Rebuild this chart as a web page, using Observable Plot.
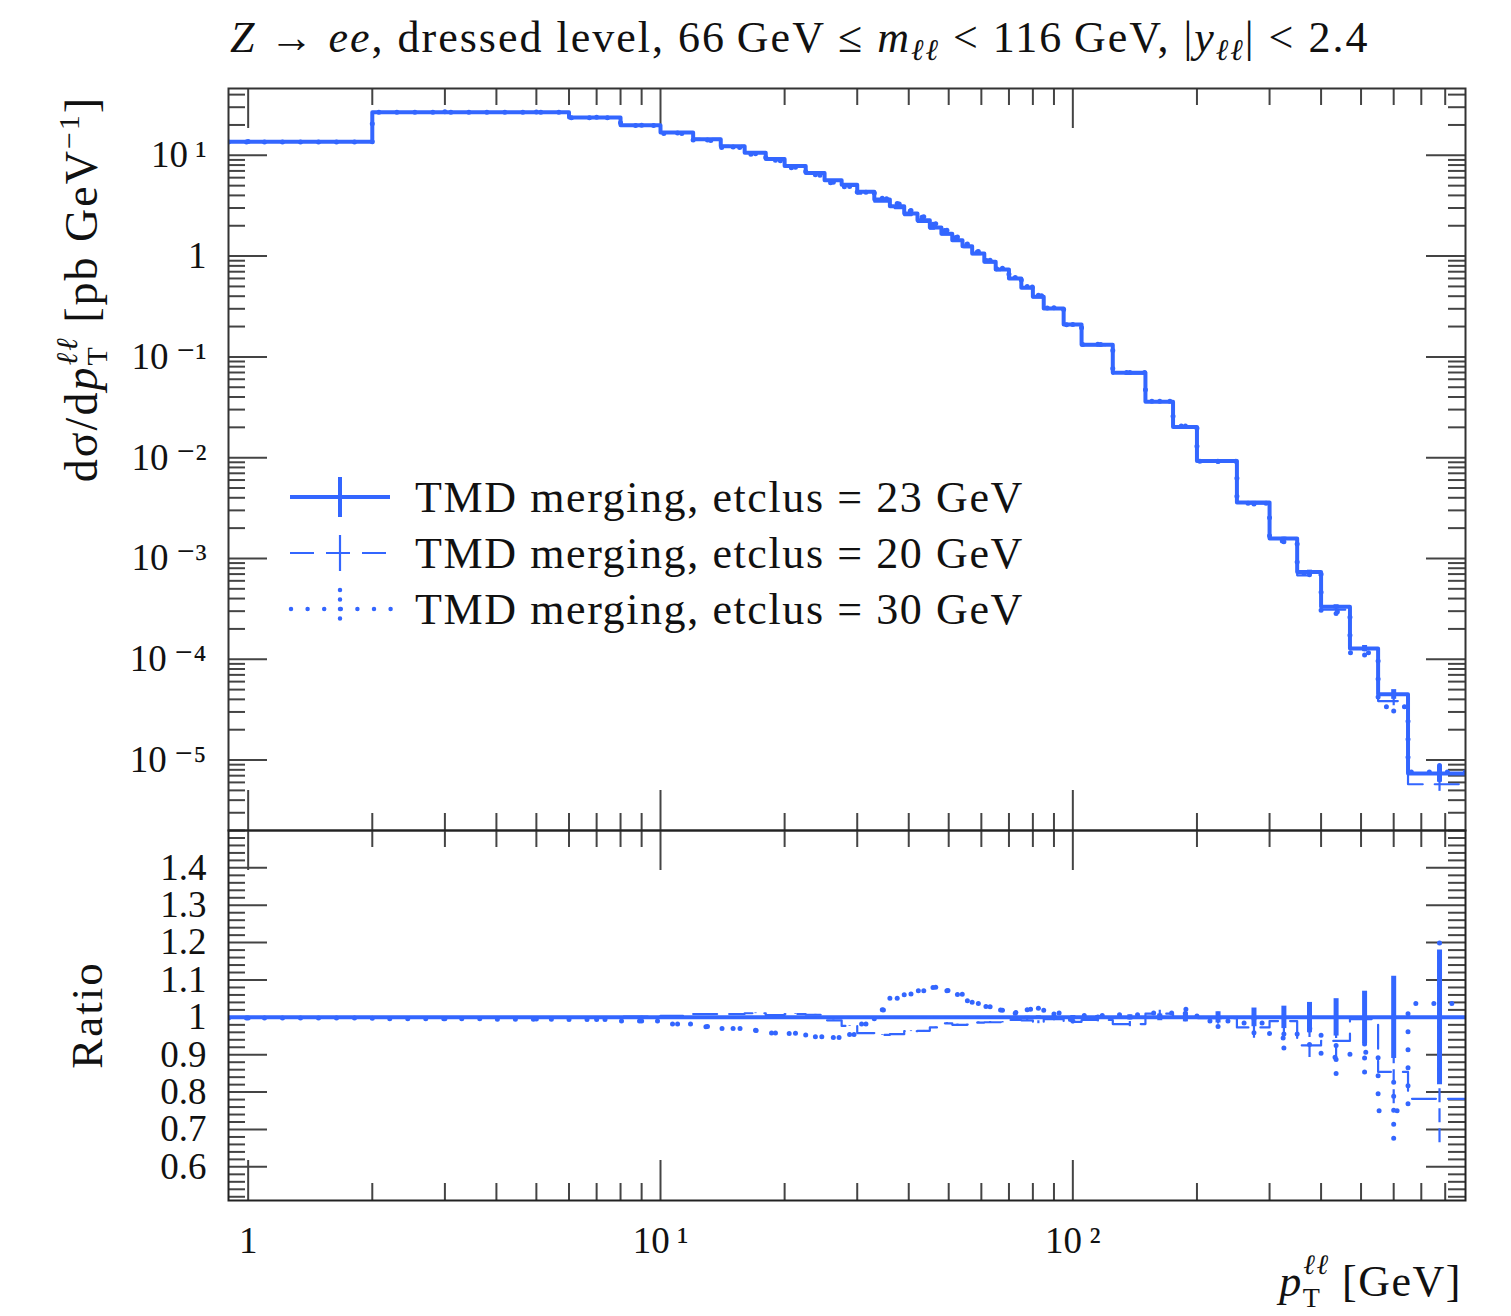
<!DOCTYPE html>
<html><head><meta charset="utf-8">
<script src="https://cdn.jsdelivr.net/npm/d3@7"></script>
<script src="https://cdn.jsdelivr.net/npm/@observablehq/plot@0.6"></script>
<style>
body{margin:0;background:#fff;}
#wrap{position:relative;width:1511px;height:1316px;overflow:hidden;font-family:"Liberation Serif","DejaVu Serif",serif;}
#wrap > *{position:absolute;left:0;}
</style></head><body><div id="wrap"></div>
<script>
// ---------- data ----------
const binEdges = [0,2,4,6,8,10,12,14,16,18,20,22.5,25,27.5,30,33,36,39,42,45,48,51,54,57,61,65,70,75,80,85,95,105,125,150,175,200,250,300,350,400,470,550,650,900];
// d sigma / d pT [pb/GeV], etclus = 23 GeV (reference)
const xsec23 = [13.6,26.8,26.8,23.7,19.9,16.8,14.4,12.3,10.6,9.2,7.85,6.69,5.66,5.1,4.34,3.64,3.13,2.64,2.27,1.92,1.67,1.44,1.25,1.06,0.877,0.736,0.60,0.484,0.394,0.302,0.21,0.132,0.0694,0.0358,0.0202,0.00929,0.00359,0.00158,0.000736,0.000331,0.000128,0.000045,0.00000736];
// ratio to the 23 GeV curve
const ratio20 = [1.0,1.0,1.0,1.001,1.002,1.004,1.009,1.009,1.011,1.006,1.009,1.007,0.992,0.977,0.958,0.953,0.955,0.963,0.964,0.973,0.984,0.98,0.98,0.986,0.987,0.987,0.993,0.992,0.987,0.995,0.988,0.993,0.982,1.01,1.0,0.998,0.973,0.99,0.925,0.937,0.995,0.854,0.782];
const ratio30 = [0.998,0.996,0.995,0.994,0.99,0.982,0.975,0.97,0.965,0.958,0.957,0.948,0.946,0.954,0.982,1.02,1.051,1.062,1.071,1.08,1.072,1.062,1.045,1.038,1.029,1.02,1.013,1.022,1.027,1.012,0.994,1.005,1.007,1.012,1.022,0.99,0.985,0.945,0.97,0.893,0.907,0.75,1.037];
// relative statistical uncertainties
const relErr23 = [0.001,0.001,0.001,0.001,0.001,0.001,0.001,0.001,0.001,0.001,0.001,0.001,0.001,0.001,0.001,0.001,0.001,0.001,0.001,0.001,0.002,0.002,0.002,0.002,0.002,0.002,0.003,0.003,0.004,0.004,0.005,0.005,0.007,0.009,0.012,0.015,0.025,0.03,0.04,0.05,0.07,0.11,0.18];
const relErr20 = [0.001,0.001,0.001,0.001,0.001,0.001,0.001,0.001,0.001,0.001,0.001,0.001,0.001,0.001,0.001,0.001,0.001,0.001,0.001,0.001,0.002,0.002,0.002,0.002,0.002,0.002,0.003,0.003,0.004,0.004,0.005,0.005,0.007,0.009,0.012,0.016,0.03,0.035,0.035,0.05,0.07,0.10,0.15];
const relErr30 = [0.001,0.001,0.001,0.001,0.001,0.001,0.001,0.001,0.001,0.001,0.001,0.001,0.001,0.001,0.001,0.001,0.001,0.001,0.001,0.001,0.002,0.002,0.002,0.002,0.002,0.002,0.003,0.003,0.004,0.004,0.005,0.005,0.007,0.009,0.012,0.016,0.028,0.03,0.045,0.05,0.06,0.10,0.17];
const seriesLabels = ["TMD merging, etclus = 23 GeV","TMD merging, etclus = 20 GeV","TMD merging, etclus = 30 GeV"];
const xTickValues = [1,10,100];
const xTickLabels = ["1","10\u2009\u00B9","10\u2009\u00B2"];
const yTickValues = [10,1,0.1,0.01,0.001,0.0001,0.00001];
const yTickLabels = ["10\u2009\u00B9","1","10\u2009\u207B\u00B9","10\u2009\u207B\u00B2","10\u2009\u207B\u00B3","10\u2009\u207B\u2074","10\u2009\u207B\u2075"];
const ratioTickValues = [1.4,1.3,1.2,1.1,1.0,0.9,0.8,0.7,0.6];
const ratioTickLabels = ["1.4","1.3","1.2","1.1","1","0.9","0.8","0.7","0.6"];

// ---------- layout ----------
const W = 1511, ML = 228, MR = 46;
const FW = W - ML - MR;
const MT = 88, MAIN_H = 830, FH_MAIN = MAIN_H - MT;
const RAT_H = 486, FH_RAT = 370;
const XDOM = [0.896, 896];
const COLOR = "#3366ff";
const FONT = "Liberation Serif, DejaVu Serif, serif";
const TICK = "#444";

const nb = binEdges.length - 1;
const centers = d3.range(nb).map(i => (binEdges[i] + binEdges[i+1]) / 2);
function stepPoints(vals) {
  const pts = vals.map((v, i) => ({x: Math.max(binEdges[i], XDOM[0]), y: v}));
  pts.push({x: binEdges[nb], y: vals[nb-1]});
  return pts;
}
const xsec20 = xsec23.map((v, i) => v * ratio20[i]);
const xsec30 = xsec23.map((v, i) => v * ratio30[i]);
const ratio23 = xsec23.map(v => v / v);
function errRows(vals, rel) {
  return vals.map((v, i) => ({x: centers[i], y1: v * (1 - rel[i]), y2: v * (1 + rel[i])}));
}

// tick positions
const xMinor = [];
for (const d of [1, 10, 100]) for (let k = 2; k <= 9; k++) if (k*d < XDOM[1]) xMinor.push(k*d);
const yMinorMain = [];
for (let e = -6; e <= 1; e++) for (let k = 2; k <= 9; k++) { const v = k * Math.pow(10, e); if (v >= 2e-6 && v <= 46) yMinorMain.push(v); }
const ratioMinor = d3.range(26, 75).map(k => k / 50).filter(v => Math.abs(v*10 - Math.round(v*10)) > 1e-6);

function frameTicks(xMaj, xMin, yMaj, yMin, FH) {
  const s = {stroke: TICK, strokeWidth: 2};
  return [
    Plot.tickY(yMin, {y: d => d, insetRight: FW - 17, ...s}),
    Plot.tickY(yMaj, {y: d => d, insetRight: FW - 39, ...s}),
    Plot.tickY(yMin, {y: d => d, insetLeft: FW - 17, ...s}),
    Plot.tickY(yMaj, {y: d => d, insetLeft: FW - 39, ...s}),
    Plot.tickX(xMin, {x: d => d, insetBottom: FH - 17, ...s}),
    Plot.tickX(xMaj, {x: d => d, insetBottom: FH - 40, ...s}),
    Plot.tickX(xMin, {x: d => d, insetTop: FH - 17, ...s}),
    Plot.tickX(xMaj, {x: d => d, insetTop: FH - 40, ...s})
  ];
}
const dashed = {stroke: COLOR, strokeWidth: 2.2, strokeDasharray: "24,12"};
const dotted = {stroke: COLOR, strokeWidth: 5, strokeDasharray: "0,18", strokeLinecap: "round"};
const solid = {stroke: COLOR, strokeWidth: 4};

function seriesMarks(v20, v30, v23) {
  return [
    Plot.line(stepPoints(v20), {x: "x", y: "y", curve: "step-after", clip: true, ...dashed}),
    Plot.line(stepPoints(v30), {x: "x", y: "y", curve: "step-after", clip: true, ...dotted}),
    Plot.ruleX(errRows(v20, relErr20), {x: "x", y1: "y1", y2: "y2", clip: true, ...dashed, strokeDasharray: "14,6"}),
    Plot.ruleX(errRows(v30, relErr30), {x: "x", y1: "y1", y2: "y2", clip: true, ...dotted, strokeDasharray: "0,14"}),
    Plot.line(stepPoints(v23), {x: "x", y: "y", curve: "step-after", clip: true, ...solid}),
    Plot.ruleX(errRows(v23, relErr23), {x: "x", y1: "y1", y2: "y2", clip: true, ...solid, strokeWidth: 5})
  ];
}

const mainPlot = Plot.plot({
  width: W, height: MAIN_H,
  marginLeft: ML, marginRight: MR, marginTop: MT, marginBottom: 0,
  style: {fontFamily: FONT, background: "transparent", overflow: "visible"},
  x: {type: "log", domain: XDOM, axis: null},
  y: {type: "log", domain: [2e-6, 46], axis: null},
  marks: [
    ...frameTicks(xTickValues, xMinor, yTickValues, yMinorMain, FH_MAIN),
    ...seriesMarks(xsec20, xsec30, xsec23),
    Plot.frame({stroke: "#333", strokeWidth: 2}),
    Plot.axisY({anchor: "left", ticks: yTickValues, tickSize: 0, tickPadding: 22, fontSize: 37, fontFamily: FONT, fill: "#111",
      tickFormat: d => yTickLabels[yTickValues.indexOf(d)], label: null})
  ]
});

const ratioPlot = Plot.plot({
  width: W, height: RAT_H,
  marginLeft: ML, marginRight: MR, marginTop: 0, marginBottom: RAT_H - FH_RAT,
  style: {fontFamily: FONT, background: "transparent", overflow: "visible"},
  x: {type: "log", domain: XDOM, axis: null},
  y: {domain: [0.51, 1.5], axis: null},
  marks: [
    ...frameTicks(xTickValues, xMinor, ratioTickValues, ratioMinor, FH_RAT),
    ...seriesMarks(ratio20, ratio30, ratio23),
    Plot.frame({stroke: "#222", strokeWidth: 2}),
    Plot.axisY({anchor: "left", ticks: ratioTickValues, tickSize: 0, tickPadding: 22, fontSize: 37, fontFamily: FONT, fill: "#111",
      tickFormat: d => ratioTickLabels[ratioTickValues.indexOf(d)], label: null}),
    Plot.axisX({anchor: "bottom", ticks: xTickValues, tickSize: 0, tickPadding: 26, fontSize: 37, fontFamily: FONT, fill: "#111",
      tickFormat: d => xTickLabels[xTickValues.indexOf(d)], label: null})
  ]
});

const wrap = document.getElementById("wrap");
mainPlot.style.top = "0px";
ratioPlot.style.top = MAIN_H + "px";
wrap.appendChild(mainPlot);
wrap.appendChild(ratioPlot);

// ---------- texts & legend overlay ----------
const NS = "http://www.w3.org/2000/svg";
const ov = document.createElementNS(NS, "svg");
ov.setAttribute("width", W); ov.setAttribute("height", 1316);
ov.style.top = "0px"; ov.style.pointerEvents = "none";
ov.setAttribute("font-family", FONT);
ov.innerHTML = `
<text x="230" y="52" font-size="44" letter-spacing="2" fill="#111"><tspan font-style="italic">Z</tspan> \u2192 <tspan font-style="italic">ee</tspan>, dressed level, 66\u2009GeV \u2264 <tspan font-style="italic">m</tspan><tspan font-size="30" font-style="italic" dy="8">\u2113\u2113</tspan><tspan dy="-8"> &lt; 116\u2009GeV, |</tspan><tspan font-style="italic">y</tspan><tspan font-size="30" font-style="italic" dy="8">\u2113\u2113</tspan><tspan dy="-8">| &lt; 2.4</tspan></text>
<text transform="translate(97,289) rotate(-90)" text-anchor="middle" font-size="46" letter-spacing="2" fill="#111">d\u03C3/d<tspan font-style="italic">p</tspan><tspan font-size="30" dy="10">T</tspan><tspan font-size="30" font-style="italic" dx="-20" dy="-30">\u2113\u2113</tspan><tspan dy="20"> [pb GeV</tspan><tspan font-size="30" dy="-18">\u22121</tspan><tspan dy="18">]</tspan></text>
<text transform="translate(102,1015) rotate(-90)" text-anchor="middle" font-size="45" letter-spacing="2" fill="#111">Ratio</text>
<text x="1462" y="1296" text-anchor="end" font-size="44" letter-spacing="1.5" fill="#111"><tspan font-style="italic">p</tspan><tspan font-size="28" dy="11">T</tspan><tspan font-size="28" font-style="italic" dx="-18" dy="-33">\u2113\u2113</tspan><tspan dy="22"> [GeV]</tspan></text>
<g stroke="${COLOR}" fill="none">
  <line x1="290" x2="390" y1="497" y2="497" stroke-width="4"/>
  <line x1="340" x2="340" y1="477" y2="517" stroke-width="4"/>
  <line x1="290" x2="390" y1="553" y2="553" stroke-width="2.2" stroke-dasharray="24,12"/>
  <line x1="340" x2="340" y1="535" y2="571" stroke-width="2.2"/>
  <line x1="291" x2="392" y1="609" y2="609" stroke-width="4.5" stroke-dasharray="0,16.6" stroke-linecap="round"/>
  <line x1="340" x2="340" y1="590" y2="628" stroke-width="4.5" stroke-dasharray="0,9.5" stroke-linecap="round"/>
</g>
<g font-size="44" letter-spacing="1.6" fill="#111">
<text x="415" y="512">${seriesLabels[0]}</text>
<text x="415" y="568">${seriesLabels[1]}</text>
<text x="415" y="624">${seriesLabels[2]}</text>
</g>
`;
wrap.appendChild(ov);
</script></body></html>
